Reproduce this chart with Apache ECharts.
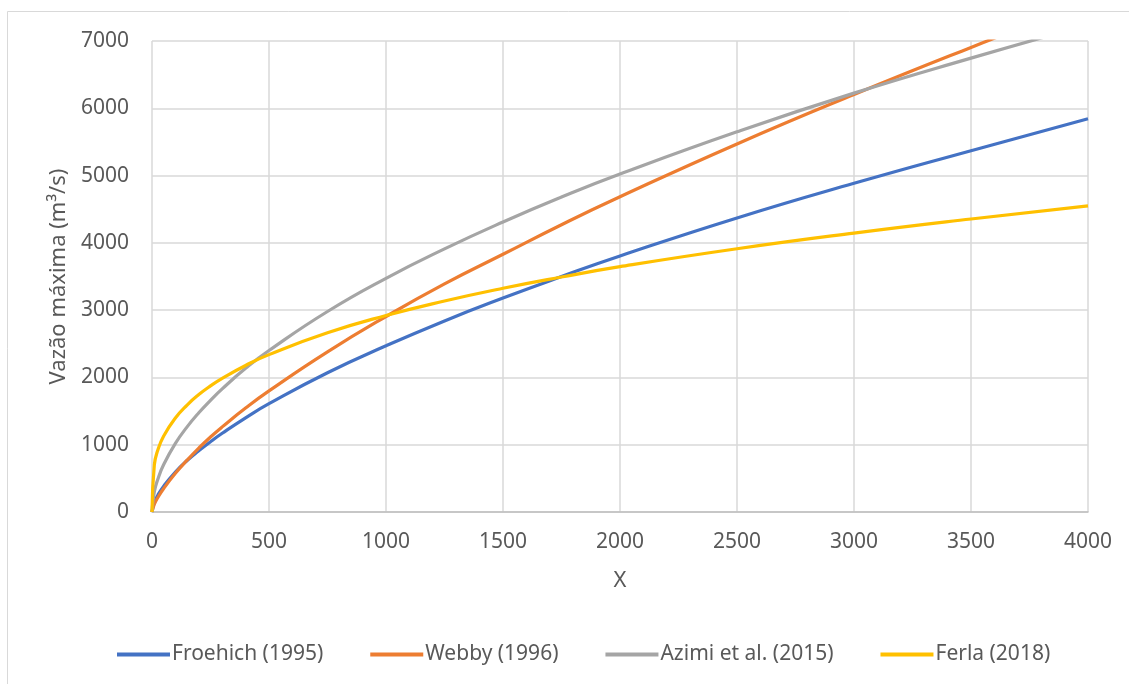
<!DOCTYPE html>
<html>
<head>
<meta charset="utf-8">
<script src="https://cdn.jsdelivr.net/npm/echarts@6/dist/echarts.min.js"></script>
<style>
  html, body { margin: 0; padding: 0; background: #ffffff; }
  #chart { width: 1129px; height: 684px; }
</style>
</head>
<body>
<div id="chart"></div>
<script>
// X values where each peak-discharge curve is sampled
const xValues = [0, 10, 25, 50, 100, 150, 200, 250, 300, 400, 500, 750, 1000, 1250, 1500, 1750, 2000, 2500, 3000, 3500, 4000];

// Peak discharge (m³/s) for each method
const froehich = [0, 140, 250, 385, 595, 765, 910, 1045, 1170, 1400, 1610, 2070, 2470, 2840, 3180, 3500, 3805, 4370, 4885, 5370, 5845];
const webby    = [0, 115, 215, 350, 575, 770, 950, 1115, 1265, 1545, 1800, 2380, 2905, 3390, 3830, 4270, 4685, 5470, 6205, 6905, 7580];
const azimi    = [0, 300, 488, 705, 1020, 1265, 1475, 1660, 1830, 2135, 2400, 2980, 3473, 3910, 4310, 4680, 5022, 5650, 6225, 6745, 7240];
const ferla    = [0, 700, 920, 1130, 1398, 1590, 1745, 1874, 1986, 2178, 2339, 2663, 2920, 3136, 3325, 3492, 3646, 3912, 4145, 4355, 4550];

const seriesNames = ['Froehich (1995)', 'Webby (1996)', 'Azimi et al. (2015)', 'Ferla (2018)'];
const seriesData = [froehich, webby, azimi, ferla];
const colors = ['#4472C4', '#ED7D31', '#A5A5A5', '#FFC000'];

const xTicks = { min: 0, max: 4000, interval: 500 };
const yTicks = { min: 0, max: 7000, interval: 1000 };

const textColor = '#595959';
const fontFamily = '"Noto Sans", "Open Sans", sans-serif';

const chart = echarts.init(document.getElementById('chart'), null, { renderer: 'canvas' });

const series = seriesNames.map((name, i) => ({
  name: name,
  type: 'line',
  data: xValues.map((x, j) => [x, seriesData[i][j]]),
  smooth: 0.5,
  showSymbol: false,
  symbol: 'none',
  clip: true,
  lineStyle: { color: colors[i], width: 3.2 },
  itemStyle: { color: colors[i] },
  emphasis: { disabled: true }
}));

const plain = v => String(v);

chart.setOption({
  animation: false,
  backgroundColor: '#ffffff',
  color: colors,
  textStyle: { fontFamily: fontFamily },
  graphic: [{
    type: 'rect',
    silent: true,
    shape: { x: 7.5, y: 11.5, width: 1300, height: 900 },
    style: { fill: 'none', stroke: '#d9d9d9', lineWidth: 1 }
  }],
  grid: { left: 152, top: 41, right: 41, bottom: 172, containLabel: false },
  xAxis: {
    type: 'value',
    min: xTicks.min,
    max: xTicks.max,
    interval: xTicks.interval,
    name: 'X',
    nameLocation: 'middle',
    nameGap: 58,
    nameTextStyle: { color: textColor, fontSize: 22, fontFamily: fontFamily },
    axisLine: { show: true, onZero: false, lineStyle: { color: '#bfbfbf', width: 1.5 } },
    axisTick: { show: false },
    axisLabel: { color: textColor, fontSize: 21, margin: 20, fontFamily: fontFamily, formatter: plain },
    splitLine: { show: true, lineStyle: { color: '#d9d9d9', width: 1.5 } }
  },
  yAxis: {
    type: 'value',
    min: yTicks.min,
    max: yTicks.max,
    interval: yTicks.interval,
    name: 'Vazão máxima (m³/s)',
    nameLocation: 'middle',
    nameGap: 81,
    nameTextStyle: { color: textColor, fontSize: 22, fontFamily: fontFamily },
    axisLine: { show: false },
    axisTick: { show: false },
    axisLabel: { color: textColor, fontSize: 21, margin: 23, fontFamily: fontFamily, formatter: plain },
    splitLine: { show: true, lineStyle: { color: '#d9d9d9', width: 1.5 } }
  },
  legend: {
    data: seriesNames.map((n, i) => ({ name: n, icon: 'rect', itemStyle: { color: colors[i] } })),
    bottom: 14,
    left: 112,
    itemWidth: 53,
    itemHeight: 4,
    itemGap: 47,
    textStyle: { color: textColor, fontSize: 21, fontFamily: fontFamily, padding: [0, 0, 0, -3] }
  },
  series: series
});
</script>
</body>
</html>
